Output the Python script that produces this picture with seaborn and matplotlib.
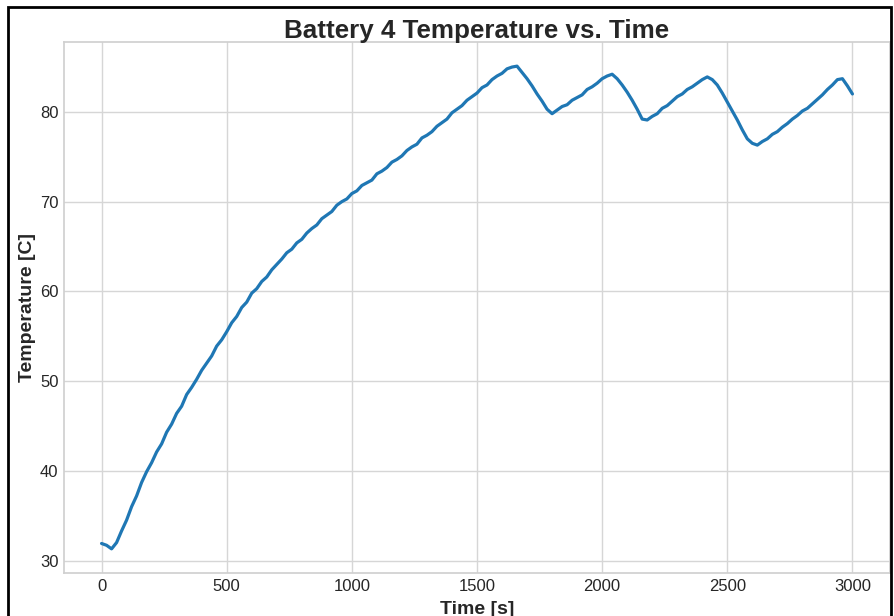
import matplotlib
matplotlib.use("Agg")
import matplotlib.pyplot as plt
import matplotlib.patches as mpatches
import seaborn as sns
import pandas as pd

# Time [s] every 20 s
time_s = list(range(0, 3001, 20))
temperature_c = [
    31.9, 31.7, 31.3, 32.0, 33.3, 34.5, 36.0, 37.2, 38.7, 39.9,
    40.9, 42.1, 43.0, 44.3, 45.2, 46.4, 47.2, 48.5, 49.3, 50.2,
    51.2, 52.0, 52.8, 53.9, 54.6, 55.5, 56.5, 57.2, 58.2, 58.8,
    59.8, 60.3, 61.1, 61.6, 62.4, 63.0, 63.6, 64.3, 64.7, 65.4,
    65.8, 66.5, 67.0, 67.4, 68.1, 68.5, 68.9, 69.6, 70.0, 70.3,
    70.9, 71.2, 71.8, 72.1, 72.4, 73.1, 73.4, 73.8, 74.4, 74.7,
    75.1, 75.7, 76.1, 76.4, 77.1, 77.4, 77.8, 78.4, 78.8, 79.2,
    79.9, 80.3, 80.7, 81.3, 81.7, 82.1, 82.7, 83.0, 83.6, 84.0,
    84.3, 84.8, 85.0, 85.1, 84.4, 83.7, 82.9, 82.0, 81.2, 80.3,
    79.8, 80.2, 80.6, 80.8, 81.3, 81.6, 81.9, 82.5, 82.8, 83.2,
    83.7, 84.0, 84.2, 83.7, 83.0, 82.2, 81.3, 80.3, 79.2, 79.1,
    79.5, 79.8, 80.4, 80.7, 81.2, 81.7, 82.0, 82.5, 82.8, 83.2,
    83.6, 83.9, 83.6, 83.0, 82.1, 81.1, 80.1, 79.1, 78.0, 77.0,
    76.5, 76.3, 76.7, 77.0, 77.5, 77.8, 78.3, 78.7, 79.2, 79.6,
    80.1, 80.4, 80.9, 81.4, 81.9, 82.5, 83.0, 83.6, 83.7, 82.9,
    82.0,
]
x_ticks = [0, 500, 1000, 1500, 2000, 2500, 3000]
y_ticks = [30, 40, 50, 60, 70, 80]

sns.set_theme(style="whitegrid")
plt.rcParams['font.family'] = ['Liberation Sans', 'DejaVu Sans']

df = pd.DataFrame({"Time": time_s, "Temperature": temperature_c})

fig = plt.figure(figsize=(8.94, 6.16), dpi=100)
ax = fig.add_axes([0.0716, 0.0698, 0.9239, 0.862])
sns.lineplot(data=df, x="Time", y="Temperature", ax=ax, color="#1f77b4", linewidth=2.3)

ax.set_xticks(x_ticks)
ax.set_yticks(y_ticks)
ax.tick_params(axis="both", labelsize=12, colors="#262626", length=0, pad=4)
ax.set_title("Battery 4 Temperature vs. Time", fontsize=18.7, fontweight="bold", pad=3)
ax.set_xlabel("Time [s]", fontsize=14, fontweight="bold", labelpad=5)
ax.set_ylabel("Temperature [C]", fontsize=14, fontweight="bold", labelpad=2.5)
for s in ax.spines.values():
    s.set_color("#d0d0d0")
ax.grid(color="#d6d6d6", linewidth=1)

# black frame around the figure (screenshot border)
frame = mpatches.Rectangle((7.5 / 894, -0.05), (891 - 7.5) / 894, 1 - 7.5 / 616 + 0.05,
                           transform=fig.transFigure, fill=False, edgecolor="black",
                           linewidth=2, clip_on=False)
fig.patches.append(frame)

fig.savefig("out.png", dpi=100)
